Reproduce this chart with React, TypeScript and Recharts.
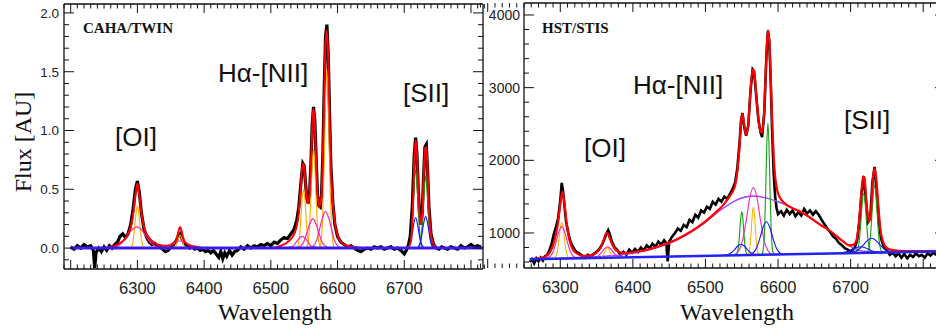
import React from 'react';
import { LineChart, Line, XAxis, YAxis } from 'recharts';

// ---------- CAHA/TWIN panel (flux in AU) ----------
const cahaObs = [
  [6200, 0.01], [6205, -0.01], [6210, 0.02], [6215, 0.0], [6220, 0.03], [6225, 0.01], [6230, 0.02], [6234, -0.02],
  [6236, -0.17], [6238, -0.04], [6242, 0.0], [6246, -0.03], [6250, 0.01], [6254, -0.02], [6258, 0.02], [6262, 0.0],
  [6266, 0.03], [6270, 0.05], [6274, 0.1], [6278, 0.12], [6282, 0.09], [6286, 0.12], [6290, 0.2], [6294, 0.35],
  [6297, 0.5], [6300, 0.57], [6303, 0.47], [6306, 0.3], [6310, 0.16], [6314, 0.09], [6318, 0.05], [6322, 0.03],
  [6326, 0.04], [6330, 0.02], [6334, 0.01], [6338, -0.01], [6342, -0.03], [6346, -0.02], [6350, 0.01], [6354, 0.03],
  [6358, 0.06], [6361, 0.1], [6364, 0.12], [6367, 0.08], [6370, 0.04], [6374, 0.02], [6378, 0.0], [6382, 0.01],
  [6386, -0.01], [6390, 0.0], [6394, -0.02], [6398, -0.01], [6402, -0.03], [6406, -0.02], [6410, -0.04], [6414, -0.02],
  [6418, -0.05], [6422, -0.08], [6425, -0.03], [6428, -0.09], [6431, -0.04], [6434, -0.07], [6438, -0.02], [6442, -0.06],
  [6446, -0.03], [6450, -0.02], [6455, 0.01], [6460, -0.01], [6465, 0.02], [6470, 0.0], [6475, 0.02], [6480, 0.01],
  [6485, 0.03], [6490, 0.02], [6495, 0.04], [6500, 0.02], [6505, 0.05], [6510, 0.04], [6515, 0.07], [6520, 0.09],
  [6525, 0.08], [6530, 0.12], [6535, 0.16], [6539, 0.24], [6542, 0.35], [6545, 0.55], [6548, 0.72], [6550, 0.7],
  [6552, 0.55], [6554, 0.42], [6556, 0.38], [6558, 0.45], [6560, 0.7], [6562, 1.05], [6564, 1.2], [6566, 1.08],
  [6568, 0.75], [6570, 0.45], [6572, 0.36], [6574, 0.35], [6576, 0.45], [6578, 0.8], [6580, 1.35], [6582, 1.8],
  [6584, 1.9], [6586, 1.65], [6588, 1.15], [6590, 0.7], [6593, 0.38], [6596, 0.2], [6600, 0.1], [6605, 0.05],
  [6610, 0.03], [6615, 0.01], [6620, 0.02], [6625, 0.0], [6630, -0.02], [6635, -0.03], [6640, -0.01], [6645, 0.0],
  [6650, -0.01], [6655, 0.01], [6660, 0.0], [6665, 0.01], [6670, -0.01], [6675, 0.0], [6680, 0.01], [6685, -0.01],
  [6690, 0.0], [6695, -0.02], [6700, -0.05], [6703, -0.02], [6706, 0.02], [6709, 0.1], [6712, 0.35], [6715, 0.8],
  [6717, 0.94], [6719, 0.8], [6721, 0.5], [6723, 0.28], [6725, 0.2], [6727, 0.3], [6729, 0.62], [6731, 0.86],
  [6733, 0.88], [6735, 0.65], [6737, 0.35], [6740, 0.12], [6744, 0.03], [6748, 0.0], [6752, -0.01], [6756, 0.01],
  [6760, 0.0], [6765, -0.01], [6770, 0.01], [6775, 0.0], [6780, -0.01], [6785, 0.02], [6790, 0.0], [6795, 0.01],
  [6800, 0.03], [6805, 0.01], [6810, 0.02], [6815, 0.01],
];

const cahaFit = [
  [6200, 0], [6250, 0], [6260, 0.01], [6270, 0.03], [6280, 0.07], [6286, 0.12], [6290, 0.18], [6294, 0.3],
  [6297, 0.45], [6300, 0.55], [6303, 0.45], [6306, 0.3], [6310, 0.18], [6316, 0.1], [6322, 0.06], [6330, 0.03],
  [6340, 0.02], [6350, 0.02], [6355, 0.04], [6359, 0.08], [6362, 0.15], [6364, 0.18], [6366, 0.15], [6369, 0.08],
  [6373, 0.04], [6380, 0.02], [6390, 0.01], [6400, 0], [6500, 0], [6515, 0.02], [6525, 0.05], [6532, 0.09],
  [6537, 0.15], [6541, 0.26], [6544, 0.45], [6547, 0.68], [6549, 0.72], [6551, 0.62], [6553, 0.46], [6556, 0.38],
  [6559, 0.55], [6561, 0.85], [6563, 1.15], [6564, 1.18], [6566, 1.05], [6568, 0.72], [6570, 0.46], [6573, 0.35],
  [6576, 0.45], [6578, 0.78], [6580, 1.3], [6582, 1.75], [6584, 1.85], [6586, 1.62], [6588, 1.12], [6590, 0.68],
  [6593, 0.38], [6597, 0.18], [6602, 0.08], [6610, 0.03], [6625, 0.01], [6640, 0], [6700, 0], [6706, 0.01],
  [6710, 0.06], [6713, 0.35], [6715, 0.75], [6717, 0.92], [6719, 0.8], [6721, 0.5], [6723, 0.28], [6725, 0.21],
  [6727, 0.3], [6729, 0.6], [6731, 0.84], [6733, 0.86], [6735, 0.65], [6737, 0.35], [6740, 0.12], [6744, 0.03],
  [6750, 0], [6815, 0],
];

// narrow components (orange)
const cahaNarrow = [
  [[6289, 0], [6292, 0.02], [6294, 0.08], [6296, 0.18], [6298, 0.3], [6300, 0.36], [6302, 0.3], [6304, 0.18], [6306, 0.08], [6308, 0.02], [6311, 0]],
  [[6353, 0], [6356, 0.01], [6358, 0.02], [6360, 0.05], [6362, 0.09], [6364, 0.11], [6366, 0.09], [6368, 0.05], [6370, 0.02], [6372, 0.01], [6375, 0]],
  [[6538, 0], [6541, 0.03], [6543, 0.1], [6545, 0.25], [6547, 0.42], [6549, 0.5], [6551, 0.42], [6553, 0.25], [6555, 0.1], [6557, 0.03], [6560, 0]],
  [[6553, 0], [6556, 0.05], [6558, 0.18], [6560, 0.42], [6562, 0.71], [6564, 0.84], [6566, 0.71], [6568, 0.42], [6570, 0.18], [6572, 0.05], [6575, 0]],
  [[6573, 0], [6576, 0.1], [6578, 0.32], [6580, 0.76], [6582, 1.28], [6584, 1.52], [6586, 1.28], [6588, 0.76], [6590, 0.32], [6592, 0.1], [6595, 0]],
];
// broad components (magenta)
const cahaBroad = [
  [[6258, 0], [6268, 0.01], [6276, 0.04], [6283, 0.09], [6291, 0.15], [6299, 0.18], [6307, 0.15], [6314, 0.09], [6321, 0.04], [6329, 0.01], [6339, 0]],
  [[6330, 0], [6340, 0.01], [6348, 0.03], [6355, 0.05], [6363, 0.06], [6371, 0.05], [6378, 0.03], [6386, 0.01], [6396, 0]],
  [[6523, 0], [6529, 0.01], [6534, 0.02], [6538, 0.05], [6542, 0.08], [6547, 0.1], [6552, 0.08], [6556, 0.05], [6560, 0.02], [6565, 0.01], [6571, 0]],
  [[6539, 0], [6545, 0.02], [6550, 0.06], [6554, 0.13], [6558, 0.2], [6563, 0.25], [6568, 0.2], [6572, 0.13], [6576, 0.06], [6581, 0.02], [6587, 0]],
  [[6558, 0], [6564, 0.02], [6569, 0.07], [6573, 0.16], [6577, 0.25], [6582, 0.31], [6587, 0.25], [6591, 0.16], [6595, 0.07], [6600, 0.02], [6606, 0]],
];
// [SII] components
const cahaSiiNarrow = [
  [[6706, 0], [6709, 0.04], [6711, 0.14], [6713, 0.34], [6715, 0.56], [6717, 0.67], [6719, 0.56], [6721, 0.34], [6723, 0.14], [6725, 0.04], [6728, 0]],
  [[6721, 0], [6724, 0.04], [6726, 0.13], [6728, 0.31], [6730, 0.51], [6732, 0.61], [6734, 0.51], [6736, 0.31], [6738, 0.13], [6740, 0.04], [6743, 0]],
];
const cahaSiiBroad = [
  [[6704, 0], [6707, 0.02], [6710, 0.07], [6712, 0.13], [6714, 0.2], [6717, 0.26], [6720, 0.2], [6722, 0.13], [6724, 0.07], [6727, 0.02], [6730, 0]],
  [[6719, 0], [6722, 0.02], [6725, 0.07], [6727, 0.14], [6729, 0.21], [6732, 0.27], [6735, 0.21], [6737, 0.14], [6739, 0.07], [6742, 0.02], [6745, 0]],
];
const cahaCont = [[6200, 0], [6818, 0]];

// ---------- HST/STIS panel ----------
const stisObs = [
  [6258, 600], [6261, 640], [6264, 580], [6267, 650], [6270, 610], [6273, 660], [6276, 620], [6279, 680],
  [6282, 700], [6285, 760], [6288, 850], [6291, 980], [6294, 1080], [6297, 1200], [6300, 1450], [6302, 1690],
  [6304, 1560], [6306, 1350], [6308, 1150], [6311, 1000], [6314, 880], [6318, 800], [6322, 740], [6326, 720],
  [6330, 690], [6334, 660], [6338, 700], [6342, 670], [6346, 710], [6350, 740], [6354, 780], [6358, 850],
  [6361, 920], [6364, 1000], [6366, 1040], [6368, 990], [6371, 880], [6375, 800], [6379, 760], [6383, 700],
  [6387, 740], [6391, 700], [6395, 770], [6399, 730], [6403, 780], [6407, 740], [6411, 800], [6415, 760],
  [6419, 830], [6423, 790], [6427, 850], [6431, 810], [6435, 880], [6439, 840], [6443, 900], [6446, 860],
  [6448, 610], [6450, 880], [6454, 950], [6458, 1000], [6462, 1060], [6466, 1030], [6470, 1110], [6474, 1080],
  [6478, 1180], [6482, 1150], [6486, 1250], [6490, 1210], [6494, 1310], [6498, 1280], [6502, 1360], [6506, 1330],
  [6510, 1430], [6514, 1390], [6518, 1470], [6522, 1430], [6526, 1500], [6530, 1470], [6534, 1540], [6538, 1620],
  [6541, 1700], [6544, 1900], [6547, 2250], [6549, 2550], [6551, 2650], [6553, 2480], [6556, 2340], [6559, 2480],
  [6562, 2950], [6565, 3250], [6567, 3220], [6570, 2880], [6573, 2550], [6576, 2380], [6578, 2320], [6581, 2650],
  [6584, 3450], [6586, 3780], [6588, 3620], [6590, 3050], [6592, 2350], [6594, 1820], [6596, 1500], [6598, 1340],
  [6600, 1260], [6604, 1300], [6608, 1240], [6612, 1320], [6616, 1260], [6620, 1310], [6624, 1230], [6628, 1290],
  [6632, 1240], [6636, 1330], [6640, 1270], [6644, 1310], [6648, 1250], [6652, 1300], [6656, 1250], [6660, 1180],
  [6664, 1120], [6668, 1060], [6672, 1010], [6676, 950], [6680, 920], [6684, 860], [6688, 830], [6692, 790],
  [6696, 770], [6700, 750], [6703, 770], [6706, 810], [6709, 900], [6712, 1150], [6715, 1550], [6718, 1780],
  [6721, 1450], [6724, 1150], [6727, 1200], [6730, 1700], [6733, 1910], [6736, 1550], [6739, 1150], [6742, 920],
  [6746, 800], [6750, 760], [6754, 700], [6758, 730], [6762, 680], [6766, 720], [6770, 660], [6774, 710],
  [6778, 650], [6782, 700], [6786, 670], [6790, 720], [6794, 680], [6798, 700], [6802, 660], [6806, 720],
  [6810, 690], [6814, 730], [6818, 700], [6822, 720], [6826, 690], [6830, 710],
];

const stisFit = [
  [6258, 640], [6270, 650], [6280, 680], [6286, 740], [6290, 830], [6294, 980], [6297, 1150], [6300, 1400],
  [6303, 1570], [6306, 1380], [6309, 1120], [6312, 930], [6316, 800], [6320, 740], [6326, 700], [6332, 685],
  [6338, 690], [6344, 700], [6350, 730], [6355, 790], [6359, 880], [6363, 990], [6365, 1000], [6368, 930],
  [6372, 830], [6377, 760], [6384, 730], [6392, 725], [6400, 735], [6420, 770], [6440, 830], [6460, 910],
  [6480, 1020], [6500, 1160], [6515, 1290], [6525, 1390], [6533, 1500], [6538, 1580], [6541, 1660], [6544, 1850],
  [6547, 2200], [6549, 2520], [6551, 2640], [6553, 2520], [6556, 2350], [6559, 2500], [6562, 2950], [6565, 3250],
  [6567, 3230], [6570, 2900], [6573, 2560], [6576, 2400], [6578, 2380], [6581, 2700], [6584, 3450], [6586, 3790],
  [6588, 3650], [6590, 3100], [6592, 2500], [6594, 2050], [6596, 1780], [6599, 1580], [6603, 1480], [6610, 1400],
  [6620, 1340], [6630, 1300], [6640, 1240], [6650, 1170], [6660, 1100], [6670, 1040], [6680, 960], [6690, 880],
  [6698, 830], [6704, 840], [6708, 900], [6711, 1100], [6714, 1450], [6717, 1780], [6719, 1760], [6722, 1400],
  [6725, 1150], [6728, 1300], [6731, 1780], [6733, 1890], [6735, 1780], [6738, 1400], [6741, 1050], [6745, 870],
  [6750, 790], [6760, 760], [6775, 750], [6800, 750], [6830, 752],
];

const stisVeryBroad = [
  [6258, 640], [6300, 652], [6330, 665], [6360, 680], [6382, 697], [6400, 720], [6420, 760], [6440, 820],
  [6460, 900], [6480, 1010], [6500, 1150], [6520, 1310], [6540, 1440], [6555, 1495], [6565, 1509], [6580, 1490],
  [6597, 1440], [6615, 1370], [6630, 1293], [6650, 1170], [6676, 1000], [6699, 820], [6722, 745], [6750, 740],
  [6800, 745], [6830, 748],
];

const stisOrange = [
  [[6291, 648], [6294, 680], [6296, 753], [6298, 898], [6300, 1068], [6302, 1148], [6304, 1068], [6306, 898], [6308, 753], [6310, 680], [6313, 648]],
  [[6354, 660], [6357, 669], [6359, 689], [6361, 730], [6363, 778], [6365, 800], [6367, 778], [6369, 730], [6371, 689], [6373, 669], [6376, 660]],
  [[6558, 698], [6560, 735], [6561.5, 829], [6563, 1019], [6564.5, 1248], [6566, 1353], [6567.5, 1248], [6569, 1019], [6570.5, 829], [6572, 735], [6574, 698]],
];
const stisPink = [
  [[6280, 650], [6286, 676], [6290, 740], [6294, 868], [6298, 1018], [6302, 1088], [6306, 1018], [6310, 868], [6314, 740], [6318, 676], [6324, 650]],
  [[6343, 660], [6349, 669], [6353, 692], [6357, 735], [6361, 786], [6365, 810], [6369, 786], [6373, 735], [6377, 692], [6381, 669], [6387, 660]],
  [[6539, 698], [6546, 757], [6551, 894], [6556, 1164], [6561, 1480], [6566, 1629], [6571, 1480], [6576, 1164], [6581, 894], [6586, 757], [6593, 698]],
];
const stisGreen = [
  [[6542, 695], [6544, 729], [6545.5, 815], [6547, 989], [6548.5, 1199], [6550, 1295], [6551.5, 1199], [6553, 989], [6554.5, 815], [6556, 729], [6558, 695]],
  [[6578, 701], [6580, 802], [6581.5, 1063], [6583, 1587], [6584.5, 2220], [6586, 2509], [6587.5, 2220], [6589, 1587], [6590.5, 1063], [6592, 802], [6594, 701]],
  [[6707, 727], [6710, 779], [6712, 899], [6714, 1137], [6716, 1415], [6718, 1546], [6720, 1415], [6722, 1137], [6724, 899], [6726, 779], [6729, 727]],
  [[6722, 729], [6725, 788], [6727, 925], [6729, 1195], [6731, 1511], [6733, 1660], [6735, 1511], [6737, 1195], [6739, 925], [6741, 788], [6744, 729]],
];
const stisBlue = [
  [[6525, 695], [6531, 704], [6535.5, 727], [6540, 770], [6544.5, 821], [6549, 845], [6553.5, 821], [6558, 770], [6562.5, 727], [6567, 704], [6573, 695]],
  [[6560, 701], [6566, 728], [6570.5, 796], [6575, 928], [6579.5, 1082], [6584, 1155], [6588.5, 1082], [6593, 928], [6597.5, 796], [6602, 728], [6608, 701]],
  [[6681, 727], [6689, 732], [6696, 745], [6702, 769], [6708, 798], [6714, 811], [6720, 798], [6726, 769], [6732, 745], [6739, 732], [6747, 727]],
  [[6696, 729], [6704, 741], [6711, 771], [6717, 828], [6723, 895], [6729, 927], [6735, 895], [6741, 828], [6747, 771], [6754, 741], [6762, 729]],
];
const stisCont = [[6258, 638], [6830, 748]];

// axis ticks
const waveLabels = [6300, 6400, 6500, 6600, 6700];
const cahaFluxLabels = [0, 0.5, 1, 1.5, 2];
const stisFluxLabels = [1000, 2000, 3000, 4000];
const waveMinor = Array.from({ length: 64 }, (_, i) => 6190 + i * 10);
const cahaYMinor = Array.from({ length: 22 }, (_, i) => (i - 1) / 10);
const stisYMinor = Array.from({ length: 18 }, (_, i) => 600 + i * 200);

const AX = '#111';
const SANS = '"Liberation Sans", Arial, sans-serif';
const SERIF = '"Liberation Serif", "Times New Roman", serif';

const pts = (a: number[][]) => a.map(([w, f]) => ({ w, f }));

const line = (key: string, data: number[][], color: string, width: number, type: any = 'monotone', xId = 'b', yId = 'l') => (
  <Line key={key} data={pts(data)} dataKey="f" xAxisId={xId} yAxisId={yId} type={type} stroke={color}
    strokeWidth={width} dot={false} activeDot={false} isAnimationActive={false} />
);

const near = (a: number, b: number) => Math.abs(a - b) < 1e-6;
const isMult = (v: number, step: number) => near(v / step, Math.round(v / step));

const bottomTick = (props: any) => {
  const { x, y, payload } = props;
  const v = payload.value;
  const major = v % 100 === 0;
  return (
    <g>
      <line x1={x} x2={x} y1={y} y2={y - (major ? 9 : 4.5)} stroke={AX} strokeWidth={1} />
      {waveLabels.includes(v) && (
        <text x={x} y={y + 25} textAnchor="middle" fontSize={16.5} fontFamily={SANS} fill="#222">{v}</text>
      )}
    </g>
  );
};
const topTick = (props: any) => {
  const { x, y, payload } = props;
  const major = payload.value % 100 === 0;
  return <line x1={x} x2={x} y1={y} y2={y + (major ? 9 : 4.5)} stroke={AX} strokeWidth={1} />;
};
const leftTick = (labels: number[], step: number, fmt: (v: number) => string, fs: number, gap: number) => (props: any) => {
  const { x, y, payload } = props;
  const v = payload.value;
  const lab = labels.some((l) => near(l, v));
  return (
    <g>
      <line x1={x} x2={x + (isMult(v, step) ? 10 : 5)} y1={y} y2={y} stroke={AX} strokeWidth={1} />
      {lab && (
        <text x={x - gap} y={y} dy="0.36em" textAnchor="end" fontSize={fs} fontFamily={SANS} fill="#222">{fmt(v)}</text>
      )}
    </g>
  );
};
const rightTick = (step: number) => (props: any) => {
  const { x, y, payload } = props;
  return <line x1={x} x2={x - (isMult(payload.value, step) ? 10 : 5)} y1={y} y2={y} stroke={AX} strokeWidth={1} />;
};

const axisLine = { stroke: AX, strokeWidth: 1.3 };

// box frame: axes of size 1 px so that Recharts still draws them
function Frame(p: any) {
  return [
    <XAxis key="xb" xAxisId="b" dataKey="w" type="number" domain={p.xd} allowDataOverflow ticks={waveMinor} interval={0}
      height={1} tickSize={0} tickMargin={0} tickLine={false} axisLine={axisLine} tick={bottomTick} />,
    <XAxis key="xt" xAxisId="t" dataKey="w" type="number" orientation="top" domain={p.xd} allowDataOverflow ticks={waveMinor}
      interval={0} height={1} tickSize={0} tickMargin={0} tickLine={false} axisLine={axisLine} tick={topTick} />,
    <YAxis key="yl" yAxisId="l" type="number" domain={p.yd} allowDataOverflow ticks={p.yt} interval={0} width={1}
      tickSize={0} tickMargin={0} tickLine={false} axisLine={axisLine} tick={p.lt} />,
    <YAxis key="yr" yAxisId="r" type="number" orientation="right" domain={p.yd} allowDataOverflow ticks={p.yt} interval={0}
      width={1} tickSize={0} tickMargin={0} tickLine={false} axisLine={axisLine} tick={p.rt} />,
  ];
}

const ORANGE = '#ffb300';
const MAGENTA = '#ff24b4';
const GREEN = '#12a012';
const BLUE = '#1414ff';
const PURPLE = '#a040ff';

export default function App() {
  const cahaLeft = leftTick(cahaFluxLabels, 0.5, (v) => v.toFixed(1), 13.5, 5);
  const stisLeft = leftTick(stisFluxLabels, 1000, (v) => String(v), 14, 4);
  return (
    <div style={{ position: 'absolute', left: 0, top: 0, width: 936, height: 332, overflow: 'hidden', background: '#fff' }}>
      <div style={{ position: 'absolute', left: 0, top: 0 }}>
        <LineChart width={490} height={332} margin={{ top: 3, left: 63, right: 6, bottom: 62 }}>
          {Frame({ xd: [6190, 6818], yd: [-0.178, 2.076], yt: cahaYMinor, lt: cahaLeft, rt: rightTick(0.5) })}
          {line('obs', cahaObs, '#000', 3.2, 'linear')}
          {cahaNarrow.map((d, i) => line('n' + i, d, ORANGE, 1.2))}
          {cahaBroad.map((d, i) => line('b' + i, d, MAGENTA, 1.2))}
          {cahaSiiNarrow.map((d, i) => line('sn' + i, d, GREEN, 1.2))}
          {cahaSiiBroad.map((d, i) => line('sb' + i, d, BLUE, 1.2))}
          {line('fit', cahaFit, '#ff0000', 2)}
          {line('cont', cahaCont, '#3a1cf0', 3, 'linear', 't', 'r')}
        </LineChart>
      </div>
      <div style={{ position: 'absolute', left: 466, top: 0 }}>
        <LineChart width={494} height={332} margin={{ top: 2, left: 57, right: 14, bottom: 63 }}>
          {Frame({ xd: [6250, 6830], yd: [518, 4165], yt: stisYMinor, lt: stisLeft, rt: rightTick(1000) })}
          {line('obs', stisObs, '#000', 2.6, 'linear')}
          {line('vb', stisVeryBroad, PURPLE, 1.4)}
          {stisOrange.map((d, i) => line('o' + i, d, ORANGE, 1.1))}
          {stisPink.map((d, i) => line('p' + i, d, MAGENTA, 1.1))}
          {stisGreen.map((d, i) => line('g' + i, d, GREEN, 1.1))}
          {stisBlue.map((d, i) => line('bl' + i, d, BLUE, 1.1))}
          {line('fit', stisFit, '#ff0000', 2.2)}
          {line('cont', stisCont, '#2222f5', 2.6, 'linear', 't', 'r')}
        </LineChart>
      </div>
      <svg width={936} height={332} style={{ position: 'absolute', left: 0, top: 0, pointerEvents: 'none' }}>
        <text x={23} y={142} transform="rotate(-90 23 142)" dy="0.35em" textAnchor="middle" fontSize={24} fontFamily={SERIF} fill="#111">Flux [AU]</text>
        <text x={275} y={320} textAnchor="middle" fontSize={24} fontFamily={SERIF} fill="#111">Wavelength</text>
        <text x={737} y={320} textAnchor="middle" fontSize={24} fontFamily={SERIF} fill="#111">Wavelength</text>
        <text x={83} y={33} fontSize={15} fontWeight="bold" fontFamily={SERIF} fill="#111">CAHA/TWIN</text>
        <text x={542} y={33} fontSize={15} fontWeight="bold" fontFamily={SERIF} fill="#111">HST/STIS</text>
        <text x={115} y={146} fontSize={26} fontFamily={SANS} fill="#111">[OI]</text>
        <text x={218} y={82} fontSize={26} fontFamily={SANS} fill="#111">Hα-[NII]</text>
        <text x={403} y={102} fontSize={26} fontFamily={SANS} fill="#111">[SII]</text>
        <text x={584} y={157} fontSize={26} fontFamily={SANS} fill="#111">[OI]</text>
        <text x={633} y={94} fontSize={26} fontFamily={SANS} fill="#111">Hα-[NII]</text>
        <text x={844} y={129} fontSize={26} fontFamily={SANS} fill="#111">[SII]</text>
      </svg>
    </div>
  );
}
